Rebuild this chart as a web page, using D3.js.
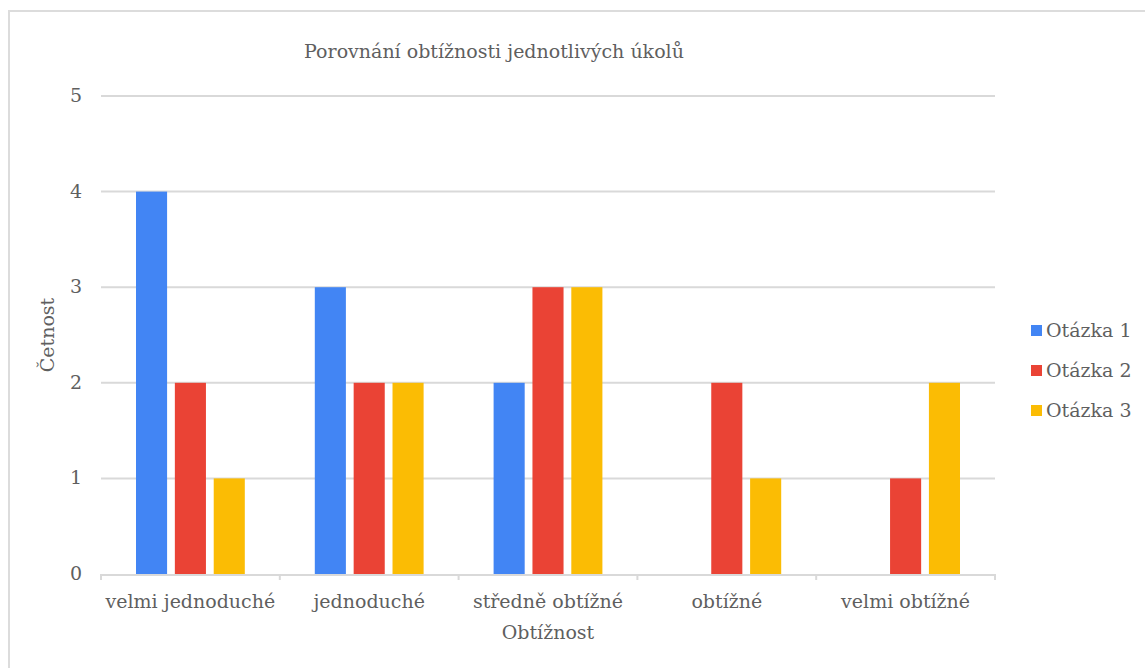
<!DOCTYPE html>
<html><head><meta charset="utf-8">
<script src="https://cdn.jsdelivr.net/npm/d3@7"></script>
<style>
html,body{margin:0;padding:0;background:#fff;}
svg text{font-family:"DejaVu Serif","Liberation Serif",serif;fill:#5f5f5f;}
</style></head>
<body>
<svg id="chart" width="1145" height="668"></svg>
<script>
const categories = ["velmi jednoduché","jednoduché","středně obtížné","obtížné","velmi obtížné"];
const seriesNames = ["Otázka 1","Otázka 2","Otázka 3"];
const otazka1 = [4,3,2,0,0];
const otazka2 = [2,2,3,2,1];
const otazka3 = [1,2,3,1,2];
const yTicks = [0,1,2,3,4,5];
const colors = ["#4285f4","#ea4335","#fbbc04"];
const chartTitle = "Porovnání obtížnosti jednotlivých úkolů";
const xTitle = "Obtížnost";
const yTitle = "Četnost";

(function(){
const series = [otazka1, otazka2, otazka3];
const svg = d3.select("#chart");

// fit font size so the title spans ~392px as in the reference
const probe = svg.append("text").attr("font-size",20).text(chartTitle);
const w = probe.node().getComputedTextLength();
probe.remove();
const fs = Math.min(19, Math.max(13, 20*392/w));

// outer border (only top/left visible)
svg.append("path").attr("d","M9,668 L9,11 L1145,11").attr("fill","none").attr("stroke","#dcdcdc").attr("stroke-width",2);

const pLeft=101, pRight=995, pTop=96, pBottom=574;
const x0 = d3.scaleBand().domain(categories).range([pLeft,pRight]).paddingInner(0).paddingOuter(0);
const x1 = d3.scaleBand().domain(seriesNames).range([35, x0.bandwidth()-35]).paddingInner(0.2).paddingOuter(0);
const y = d3.scaleLinear().domain([0,5]).range([pBottom,pTop]);

// grid
svg.append("g").selectAll("line").data(yTicks.filter(d=>d>0)).join("line")
  .attr("x1",pLeft).attr("x2",pRight).attr("y1",d=>y(d)).attr("y2",d=>y(d))
  .attr("stroke","#d9d9d9").attr("stroke-width",2);

// bars
const groups = svg.append("g").selectAll("g").data(categories).join("g")
  .attr("transform",d=>`translate(${x0(d)},0)`);
groups.selectAll("rect").data((c,i)=>series.map((s,j)=>({name:seriesNames[j],v:s[i],color:colors[j]})))
  .join("rect")
  .attr("x",d=>x1(d.name)).attr("width",x1.bandwidth())
  .attr("y",d=>y(d.v)).attr("height",d=>y(0)-y(d.v))
  .attr("fill",d=>d.color);

// x axis line and ticks
svg.append("line").attr("x1",pLeft).attr("x2",pRight).attr("y1",pBottom+1).attr("y2",pBottom+1)
  .attr("stroke","#d9d9d9").attr("stroke-width",2);
const bounds = categories.map(c=>x0(c)).concat([pRight]);
svg.append("g").selectAll("line").data(bounds).join("line")
  .attr("x1",d=>d).attr("x2",d=>d).attr("y1",pBottom).attr("y2",pBottom+6)
  .attr("stroke","#d9d9d9").attr("stroke-width",2);

// x labels
svg.append("g").selectAll("text").data(categories).join("text")
  .attr("x",d=>x0(d)+x0.bandwidth()/2).attr("y",608)
  .attr("text-anchor","middle").attr("font-size",fs).text(d=>d);

// y labels
svg.append("g").selectAll("text").data(yTicks).join("text")
  .attr("x",82).attr("y",d=>y(d)+6)
  .attr("text-anchor","end").attr("font-size",fs).text(d=>d);

// titles
svg.append("text").attr("x",494).attr("y",58).attr("text-anchor","middle").attr("font-size",fs).text(chartTitle);
svg.append("text").attr("x",548).attr("y",639).attr("text-anchor","middle").attr("font-size",fs).text(xTitle);
svg.append("text").attr("transform","translate(54,335) rotate(-90)").attr("text-anchor","middle").attr("font-size",fs).text(yTitle);

// legend
const lg = svg.append("g").selectAll("g").data(seriesNames).join("g")
  .attr("transform",(d,i)=>`translate(1031,${331+i*40})`);
lg.append("rect").attr("x",0).attr("y",-6).attr("width",11).attr("height",11).attr("fill",(d,i)=>colors[i]);
lg.append("text").attr("x",15).attr("y",6).attr("font-size",fs).text(d=>d);
})();
</script>
</body></html>
